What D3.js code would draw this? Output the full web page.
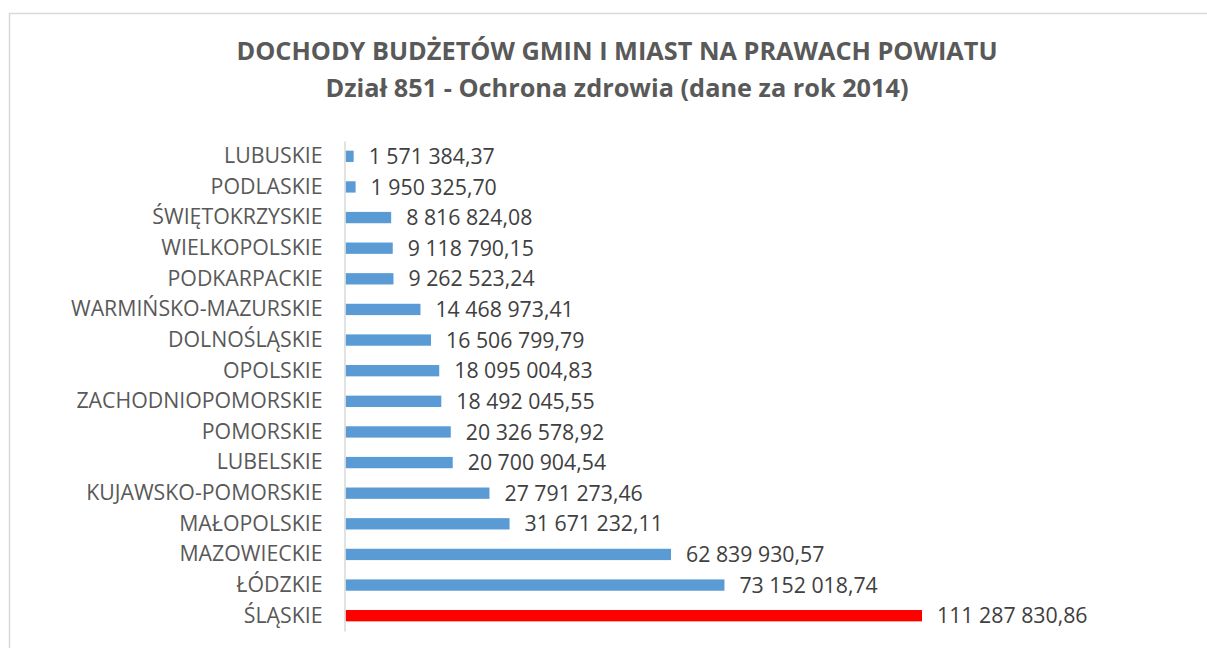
<!DOCTYPE html>
<html><head><meta charset="utf-8">
<script src="https://cdn.jsdelivr.net/npm/d3@7"></script>
<style>body{margin:0;background:#fff}svg{display:block}</style>
</head><body>
<script>
const titleLines = ["DOCHODY BUDŻETÓW GMIN I MIAST NA PRAWACH POWIATU", "Dział 851 - Ochrona zdrowia (dane za rok 2014)"];
const categories = ["LUBUSKIE","PODLASKIE","ŚWIĘTOKRZYSKIE","WIELKOPOLSKIE","PODKARPACKIE","WARMIŃSKO-MAZURSKIE","DOLNOŚLĄSKIE","OPOLSKIE","ZACHODNIOPOMORSKIE","POMORSKIE","LUBELSKIE","KUJAWSKO-POMORSKIE","MAŁOPOLSKIE","MAZOWIECKIE","ŁÓDZKIE","ŚLĄSKIE"];
const values = [1571384.37,1950325.70,8816824.08,9118790.15,9262523.24,14468973.41,16506799.79,18095004.83,18492045.55,20326578.92,20700904.54,27791273.46,31671232.11,62839930.57,73152018.74,111287830.86];
const highlight = ["ŚLĄSKIE"];

const W = 1207, H = 648;
const svg = d3.select("body").append("svg").attr("width", W).attr("height", H);
const font = "'Open Sans', 'Noto Sans', sans-serif";

svg.append("rect").attr("x", 9.5).attr("y", 13.5).attr("width", W + 10).attr("height", H + 10)
  .attr("fill", "#fff").attr("stroke", "#D9D9D9").attr("stroke-width", 1.5);

const tl = svg.append("g").attr("font-family", font).attr("font-weight", "bold").attr("fill", "#595959").attr("text-anchor", "middle");
tl.append("text").attr("x", 617).attr("y", 60).attr("font-size", 25.3).text(titleLines[0]);
tl.append("text").attr("x", 617).attr("y", 97).attr("font-size", 25.3).text(titleLines[1]);

const x0 = 345.5;
const x = d3.scaleLinear().domain([0, 111287830.86]).range([x0, 922]);
const y = d3.scaleBand().domain(categories).range([141, 631]).paddingInner(0.63).paddingOuter(0.315);

const fmt = v => {
  const [i, d] = v.toFixed(2).split(".");
  return i.replace(/\B(?=(\d{3})+(?!\d))/g, " ") + "," + d;
};

svg.append("g").selectAll("rect").data(categories).join("rect")
  .attr("x", x(0)).attr("y", d => y(d))
  .attr("width", (d, i) => x(values[i]) - x(0))
  .attr("height", y.bandwidth())
  .attr("fill", d => highlight.includes(d) ? "#FF0000" : "#5B9BD5");

const yAxis = svg.append("g").attr("transform", `translate(${x0 - 1},0)`)
  .call(d3.axisLeft(y).tickSize(0).tickPadding(22));
yAxis.select(".domain").attr("stroke", "#D9D9D9").attr("stroke-width", 1.5);
yAxis.selectAll("text").attr("font-family", font).attr("font-size", 21.3).attr("fill", "#595959");

svg.append("g").selectAll("text").data(categories).join("text")
  .attr("x", (d, i) => x(values[i]) + 15)
  .attr("y", d => y(d) + y.bandwidth() / 2)
  .attr("dy", "0.36em")
  .attr("font-family", font).attr("font-size", 21.3).attr("fill", "#404040")
  .text((d, i) => fmt(values[i]));
</script>
</body></html>
